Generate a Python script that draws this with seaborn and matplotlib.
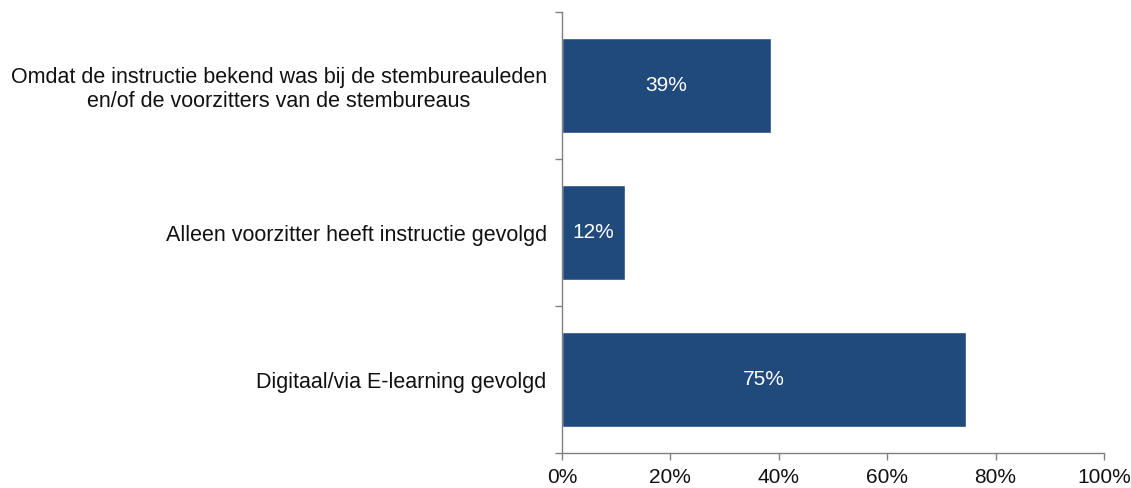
import matplotlib
matplotlib.use("Agg")
import matplotlib.pyplot as plt
import seaborn as sns
import pandas as pd
from matplotlib.ticker import FixedLocator, PercentFormatter

categories = [
    "Omdat de instructie bekend was bij de stembureauleden\nen/of de voorzitters van de stembureaus",
    "Alleen voorzitter heeft instructie gevolgd",
    "Digitaal/via E-learning gevolgd",
]
values = [38.6, 11.6, 74.6]
value_labels = ["39%", "12%", "75%"]
xticks = [0, 20, 40, 60, 80, 100]

sns.set_theme(style="white")
plt.rcParams['font.family'] = ['Liberation Sans', 'DejaVu Sans']

FS = 15

df = pd.DataFrame({"cat": categories, "val": values})

fig = plt.figure(figsize=(11.31, 4.88), dpi=100)
ax = fig.add_axes([562/1131, 1 - 453/488, (1104-562)/1131, (453-12)/488])

sns.barplot(data=df, y="cat", x="val", orient="h", color="#214A7C",
            saturation=1, width=0.65, ax=ax)

for i, (v, lab) in enumerate(zip(values, value_labels)):
    ax.text(v / 2, i, lab, ha="center", va="center", color="white", fontsize=FS)

ax.set_xlim(0, 100)
ax.set_ylim(2.5, -0.5)
ax.set_xticks(xticks)
ax.xaxis.set_major_formatter(PercentFormatter(decimals=0))
ax.set_xlabel("")
ax.set_ylabel("")
ax.tick_params(axis="y", which="major", length=0, pad=11, labelsize=15.5, labelcolor="#111111")
ax.tick_params(axis="x", which="major", length=5, width=1, color="#808080",
               direction="out", bottom=True, labelsize=FS, labelcolor="#111111", pad=6)
ax.yaxis.set_minor_locator(FixedLocator([-0.5, 0.5, 1.5, 2.5]))
ax.tick_params(axis="y", which="minor", length=5, width=1, color="#808080",
               direction="out", left=True)
for lab in ax.get_yticklabels():
    lab.set_multialignment("center")

for s in ["top", "right"]:
    ax.spines[s].set_visible(False)
for s in ["left", "bottom"]:
    ax.spines[s].set_color("#808080")
    ax.spines[s].set_linewidth(1)

fig.savefig("out.png", dpi=100)
